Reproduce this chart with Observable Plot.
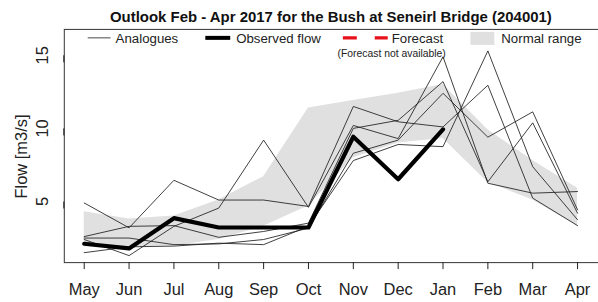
<!DOCTYPE html>
<html><head><meta charset="utf-8">
<script src="https://cdn.jsdelivr.net/npm/d3@7"></script>
<script src="https://cdn.jsdelivr.net/npm/@observablehq/plot@0.6"></script>
<style>
html,body{margin:0;padding:0;background:#fff;overflow:hidden}
#wrap{position:relative;width:598px;height:302px;overflow:hidden;font-family:"Liberation Sans",Arial,sans-serif}
</style></head><body><div id="wrap"></div>
<script>
// ---- data ----
const months = ["May","Jun","Jul","Aug","Sep","Oct","Nov","Dec","Jan","Feb","Mar","Apr"];
const yTicks = [5, 10, 15];
const normalLow  = [1.9, 1.9, 1.95, 2.4, 3.3, 4.7, 8.0, 9.0, 9.3, 6.3, 5.1, 3.3];
const normalHigh = [4.3, 3.8, 4.0, 5.1, 6.7, 11.4, 11.9, 12.4, 13.0, 9.9, 7.8, 5.9];
const observed   = [2.11, 1.79, 3.86, 3.22, 3.22, 3.22, 9.43, 6.52, 9.93];
const analogue1 = [4.9, 3.2, 6.45, 5.1, 5.1, 4.66, 11.5, 10.45, 10.1, 12.95, 5.23, 3.35];
const analogue2 = [2.4, 1.3, 3.3, 4.55, 9.2, 4.6, 10.2, 9.3, 14.9, 6.25, 5.57, 5.68];
const analogue3 = [2.6, 3.3, 3.35, 2.55, 2.95, 3.52, 10.0, 10.55, 13.2, 6.35, 10.38, 4.2];
const analogue4 = [2.5, 2.5, 2.05, 2.1, 2.4, 3.18, 8.3, 9.2, 12.4, 9.4, 11.13, 4.43];
const analogue5 = [1.5, 1.9, 1.95, 2.15, 2.05, 3.3, 7.8, 8.9, 8.75, 15.3, 7.38, 3.75];
const analogues = [analogue1, analogue2, analogue3, analogue4, analogue5];

// ---- tables ----
const band = months.map((m, i) => ({i, lo: normalLow[i], hi: normalHigh[i]}));
const obs = observed.map((v, i) => ({i, v}));
const anal = analogues.flatMap((s, k) => s.map((v, i) => ({i, v, s: k})));

const chart = Plot.plot({
  width: 600, height: 302,
  marginLeft: 64, marginRight: 0, marginTop: 29, marginBottom: 39,
  style: {fontFamily: "'Liberation Sans', Arial, sans-serif", color: "#222", background: "white"},
  x: {domain: [-0.4444, 11.4667]},
  y: {domain: [0.82, 16.77]},
  marks: [
    Plot.areaY(band, {x: "i", y1: "lo", y2: "hi", fill: "#e0e0e0", curve: "linear"}),
    Plot.line(anal, {x: "i", y: "v", z: "s", stroke: "#1e1e1e", strokeWidth: 0.85}),
    Plot.line(obs, {x: "i", y: "v", stroke: "#000", strokeWidth: 4.2}),
    Plot.frame({stroke: "#333", strokeWidth: 1}),
    Plot.axisX({ticks: d3.range(12), tickFormat: i => months[i], tickSize: 7, tickPadding: 14, fontSize: 16.5, label: null}),
    Plot.axisY({ticks: yTicks, tickSize: 7, tickPadding: 15, rotate: -90, textAnchor: "middle", fontSize: 16.5, label: null})
  ]
});
document.getElementById("wrap").appendChild(chart);

// ---- title, y label, legend (decoration) ----
const svg = d3.select(chart);
const ff = "'Liberation Sans', Arial, sans-serif";
svg.append("text").attr("x", 332).attr("y", 22).attr("text-anchor", "middle")
  .attr("font-family", ff).attr("font-weight", "bold").attr("font-size", 15).attr("fill", "#111")
  .text("Outlook Feb - Apr 2017 for the Bush at Seneirl Bridge (204001)");
svg.append("text").attr("transform", "translate(27,157) rotate(-90)").attr("text-anchor", "middle")
  .attr("font-family", ff).attr("font-size", 16.5).attr("fill", "#222").text("Flow [m3/s]");

const lg = svg.append("g").attr("font-family", ff).attr("font-size", 13.3).attr("fill", "#222").attr("text-anchor", "start");
lg.append("line").attr("x1", 88).attr("x2", 111).attr("y1", 38).attr("y2", 38).attr("stroke", "#333").attr("stroke-width", 0.9);
lg.append("text").attr("x", 116).attr("y", 43).attr("text-anchor", "start").text("Analogues");
lg.append("line").attr("x1", 206).attr("x2", 231).attr("y1", 38).attr("y2", 38).attr("stroke", "#000").attr("stroke-width", 4);
lg.append("text").attr("x", 237).attr("y", 43).attr("text-anchor", "start").text("Observed flow");
lg.append("line").attr("x1", 344).attr("x2", 389).attr("y1", 38).attr("y2", 38).attr("stroke", "#e8101a").attr("stroke-width", 3.5).attr("stroke-dasharray", "14 18");
lg.append("text").attr("x", 393).attr("y", 43).attr("text-anchor", "start").text("Forecast");
lg.append("text").attr("x", 393).attr("y", 57).attr("text-anchor", "middle").attr("font-size", 10.4).text("(Forecast not available)");
lg.append("rect").attr("x", 472).attr("y", 32).attr("width", 24).attr("height", 13).attr("fill", "#e0e0e0");
lg.append("text").attr("x", 503).attr("y", 43).attr("text-anchor", "start").text("Normal range");
</script></body></html>
